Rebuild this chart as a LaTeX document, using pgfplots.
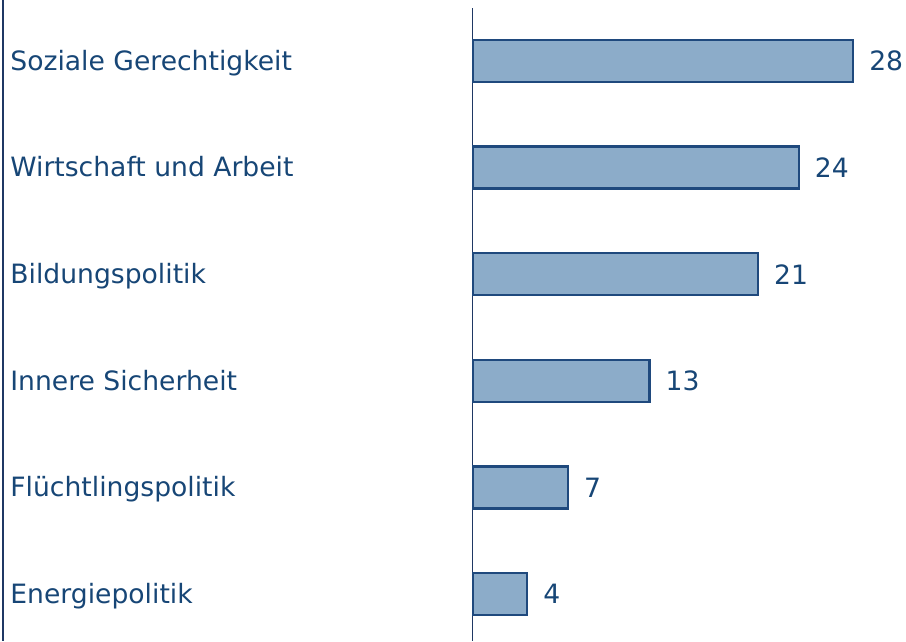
\documentclass[border=0pt]{standalone}
\usepackage{pgfplots}
\pgfplotsset{compat=1.18}
\usepackage{fontspec}
\setmainfont{DejaVu Sans}
\definecolor{txt}{HTML}{174676}
\definecolor{barfill}{HTML}{8CACC9}
\definecolor{barline}{HTML}{1F497D}
\definecolor{axline}{HTML}{1F3864}
\begin{document}
\begin{tikzpicture}[x=1pt,y=1pt]
\begin{axis}[
  scale only axis,
  width=216.5pt, height=316.5pt,
  xbar, bar width=21pt,
  xmin=0, xmax=31.9,
  ymin=-0.44, ymax=5.497,
  axis y line*=left,
  axis x line=none,
  y axis line style={draw=axline, line width=0.5pt, -},
  ytick={0,1,2,3,4,5},
  yticklabels={Energiepolitik,Flüchtlingspolitik,Innere Sicherheit,Bildungspolitik,Wirtschaft und Arbeit,Soziale Gerechtigkeit},
  major tick length=0pt,
  yticklabel style={anchor=base west, inner sep=0pt, xshift=-231.5pt, yshift=-4.6pt, font=\fontsize{13.3pt}{15pt}\selectfont, text=txt},
  nodes near coords,
  every node near coord/.append style={anchor=west, inner sep=0pt, xshift=7.5pt, font=\fontsize{13.3pt}{15pt}\selectfont, text=txt, /pgf/number format/assume math mode=true},
  clip=false,
]
\addplot[fill=barfill, draw=barline, line width=1.2pt] coordinates {
  (4,0) (7,1) (13,2) (21,3) (24,4) (28,5)
};
\coordinate (BL) at (rel axis cs:0,0);
\coordinate (TR) at (rel axis cs:1,1);
\end{axis}
\path[use as bounding box] ([xshift=-236.5pt]BL) rectangle ([yshift=4pt]TR);
\draw[axline, line width=0.6pt] ([xshift=-235pt]BL) -- ([xshift=-235pt,yshift=4pt]BL |- TR);
\end{tikzpicture}
\end{document}
